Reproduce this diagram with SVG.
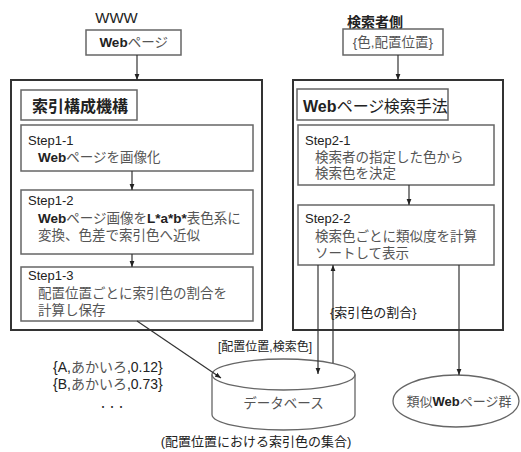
<svg xmlns="http://www.w3.org/2000/svg" width="521" height="452" viewBox="0 0 521 452">
<defs>
<marker id="ah" viewBox="0 0 10 10" refX="10" refY="5" markerWidth="6" markerHeight="6" orient="auto-start-reverse" markerUnits="userSpaceOnUse">
<path d="M0,1 L10,5 L0,9 z" fill="#222"/>
</marker>
<style>
text{font-family:"Liberation Sans","Noto Sans CJK JP",sans-serif;fill:#222;}
.p{font-feature-settings:"palt";}
.j{fill:#555;font-size:13.5px;}
.s{font-size:13px;fill:#222;}
.b{font-weight:bold;fill:#222;}
.big{fill:#fff;stroke:#333;stroke-width:2;}
.box{fill:#fff;stroke:#666;stroke-width:1.5;}
.ln{fill:none;stroke:#333;stroke-width:1.2;}
</style>
</defs>
<rect width="521" height="452" fill="#fff"/>

<g id="www">
<text x="116.5" y="23" text-anchor="middle" font-size="15" fill="#333">WWW</text>
</g>
<g id="webpage">
<rect class="box" x="86" y="30" width="95" height="25"/>
<text x="133.5" y="47" text-anchor="middle" class="j p"><tspan class="b">Web</tspan>ページ</text>
</g>
<g id="searcher">
<text x="375" y="27" text-anchor="middle" font-size="14" font-weight="bold" fill="#333">検索者側</text>
</g>
<g id="query">
<rect class="box" x="343" y="29" width="100" height="26"/>
<text x="393" y="47" text-anchor="middle" class="j p">{色,配置位置}</text>
</g>

<g id="indexing">
<rect class="big" x="11" y="80" width="251" height="250"/>
<rect class="box" x="21" y="90" width="116" height="30"/>
<text x="32" y="112" font-size="16" font-weight="bold" fill="#333">索引構成機構</text>
</g>
<g id="step1-1">
<rect class="box" x="21" y="125" width="232" height="46"/>
<text x="28" y="145" class="s">Step1-1</text>
<text x="38" y="162" class="j"><tspan class="b">Web</tspan>ページを画像化</text>
</g>
<g id="step1-2">
<rect class="box" x="21" y="190" width="232" height="64"/>
<text x="28" y="205" class="s">Step1-2</text>
<text x="38" y="223" class="j"><tspan class="b">Web</tspan>ページ画像を<tspan class="b">L*a*b*</tspan>表色系に</text>
<text x="38" y="240" class="j">変換、色差で索引色へ近似</text>
</g>
<g id="step1-3">
<rect class="box" x="21" y="267" width="232" height="54"/>
<text x="28" y="280" class="s">Step1-3</text>
<text x="38" y="298" class="j">配置位置ごとに索引色の割合を</text>
<text x="38" y="315" class="j">計算し保存</text>
</g>

<g id="search">
<rect class="big" x="293" y="80" width="210" height="250"/>
<rect class="box" x="297" y="89" width="151" height="31"/>
<text x="303" y="112" font-size="16" fill="#333" class="p"><tspan font-weight="bold">Web</tspan>ページ検索手法</text>
</g>
<g id="step2-1">
<rect class="box" x="298" y="125" width="196" height="60"/>
<text x="305" y="145" class="s">Step2-1</text>
<text x="315" y="162" class="j">検索者の指定した色から</text>
<text x="315" y="178" class="j">検索色を決定</text>
</g>
<g id="step2-2">
<rect class="box" x="298" y="205" width="196" height="60"/>
<text x="305" y="223" class="s">Step2-2</text>
<text x="315" y="241" class="j">検索色ごとに類似度を計算</text>
<text x="315" y="258" class="j">ソートして表示</text>
</g>

<g id="database">
<path d="M212,374.5 A71.5,15.5 0 0 1 355,374.5 L355,414.5 A71.5,15.5 0 0 1 212,414.5 Z" fill="#fff" stroke="#666" stroke-width="1.3"/>
<path d="M212,374.5 A71.5,15.5 0 0 0 355,374.5" fill="none" stroke="#666" stroke-width="1.3"/>
<text x="283.5" y="408" text-anchor="middle" class="j" font-size="13">データベース</text>
<text x="256" y="446" text-anchor="middle" font-size="13" fill="#333">(配置位置における索引色の集合)</text>
</g>

<g id="result">
<ellipse cx="456" cy="401" rx="63" ry="26" fill="#fff" stroke="#666" stroke-width="1.3"/>
<text x="459" y="406" text-anchor="middle" class="j" style="font-size:13px">類似<tspan class="b">Web</tspan>ページ群</text>
</g>

<g id="records">
<text x="53" y="372" font-size="14" fill="#333">{A,<tspan fill="#555">あかいろ</tspan>,0.12}</text>
<text x="53" y="389" font-size="14" fill="#333">{B,<tspan fill="#555">あかいろ</tspan>,0.73}</text>
<text x="112" y="410" text-anchor="middle" font-size="9" fill="#333">・・・</text>
</g>

<g id="connectors">
<line class="ln" x1="137" y1="55" x2="137" y2="80" marker-end="url(#ah)"/>
<line class="ln" x1="398" y1="55" x2="398" y2="80" marker-end="url(#ah)"/>
<line class="ln" x1="132" y1="171" x2="132" y2="190" marker-end="url(#ah)"/>
<line class="ln" x1="132" y1="254" x2="132" y2="267" marker-end="url(#ah)"/>
<line class="ln" x1="409" y1="185" x2="409" y2="205" marker-end="url(#ah)"/>
<line class="ln" x1="137" y1="321" x2="221" y2="378" marker-end="url(#ah)" stroke-width="1.5"/>
<line class="ln" x1="318" y1="265" x2="318" y2="374" marker-end="url(#ah)"/>
<line class="ln" x1="333" y1="363" x2="333" y2="265" marker-end="url(#ah)"/>
<line class="ln" x1="459" y1="265" x2="459" y2="375" marker-end="url(#ah)"/>
<text x="218" y="351" font-size="12" fill="#444">[配置位置,検索色]</text>
<text x="330" y="317" font-size="13" fill="#444">{索引色の割合}</text>
</g>
</svg>
